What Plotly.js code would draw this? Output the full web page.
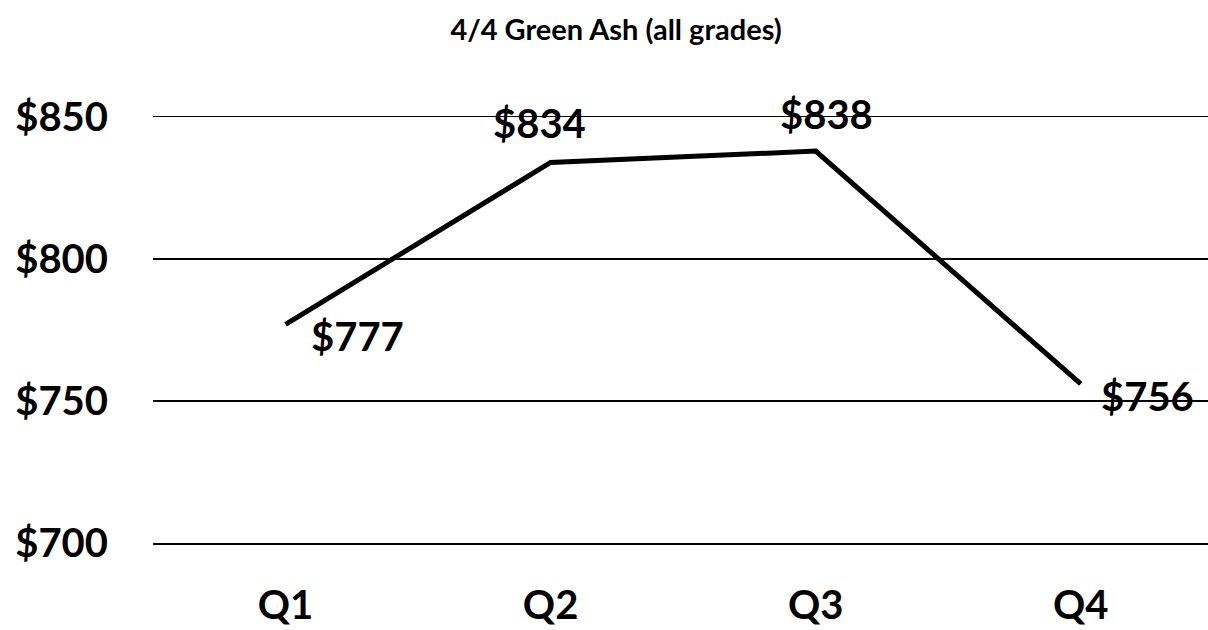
<!DOCTYPE html>
<html>
<head>
<meta charset="utf-8">
<script src="https://cdn.plot.ly/plotly-3.0.1.min.js"></script>
<style>html,body{margin:0;padding:0;background:#fff;}#chart{width:1208px;height:630px;}</style>
</head>
<body>
<div id="chart"></div>
<script>
const quarters = ["Q1", "Q2", "Q3", "Q4"];
const prices = [777, 834, 838, 756];
const yTicks = [700, 750, 800, 850];
const chartTitle = "4/4 Green Ash (all grades)";
const labelShifts = [[72, -12], [-11, 39], [11, 37], [67, -12]];

const FONT = "Lato, 'Open Sans', sans-serif";

const trace = {
  type: "scatter",
  mode: "lines",
  x: quarters,
  y: prices,
  line: { color: "#000", width: 5 },
  hoverinfo: "skip"
};

const annotations = quarters.map((q, i) => ({
  x: q, y: prices[i], xref: "x", yref: "y",
  text: "$" + prices[i],
  showarrow: false,
  xshift: labelShifts[i][0], yshift: labelShifts[i][1],
  font: { family: FONT, size: 40, color: "#000", weight: "bold" }
}));

const layout = {
  width: 1208, height: 630,
  margin: { l: 153, r: 0, t: 117, b: 87 },
  paper_bgcolor: "#fff", plot_bgcolor: "#fff",
  showlegend: false,
  title: {
    text: chartTitle,
    xref: "container", yref: "container",
    x: 0.51, y: 0.952, xanchor: "center", yanchor: "middle",
    font: { family: FONT, size: 29, color: "#000", weight: "bold" }
  },
  xaxis: {
    type: "category",
    range: [-0.5, 3.48],
    showgrid: false, zeroline: false,
    showline: true, mirror: true, linecolor: "#000", linewidth: 1.5,
    ticks: "", ticklabelstandoff: 26,
    tickfont: { family: FONT, size: 40, color: "#000", weight: "bold" }
  },
  yaxis: {
    range: [700, 850],
    tickvals: yTicks,
    ticktext: yTicks.map(v => "$" + v),
    showgrid: true, gridcolor: "#000", gridwidth: 1.5,
    zeroline: false, showline: false,
    ticks: "", ticklabelstandoff: 44,
    tickfont: { family: FONT, size: 40, color: "#000", weight: "bold" }
  },
  annotations: annotations
};

Plotly.newPlot("chart", [trace], layout, { staticPlot: true, displayModeBar: false });
</script>
</body>
</html>
